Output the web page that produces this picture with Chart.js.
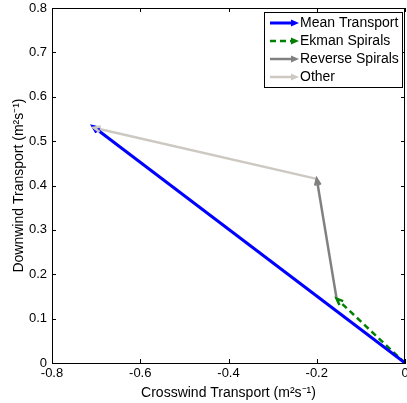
<!DOCTYPE html>
<html>
<head>
<meta charset="utf-8">
<script src="https://cdn.jsdelivr.net/npm/chart.js@4.4.1/dist/chart.umd.min.js"></script>
<style>
  html, body { margin: 0; padding: 0; background: #fff; }
  #wrap { width: 407px; height: 403px; }
</style>
</head>
<body>
<div id="wrap"><canvas id="quiver"></canvas></div>
<script>
// arrow components
var names  = ['Mean Transport', 'Ekman Spirals', 'Reverse Spirals', 'Other'];
var startX = [0, 0, -0.155, -0.2];
var startY = [0, 0, 0.145, 0.415];
var endX   = [-0.707, -0.155, -0.2, -0.705];
var endY   = [0.533, 0.145, 0.415, 0.53];

var colors = ['#0000ff', '#008000', '#808080', '#cdc9c2'];
var widths = [3, 2.5, 2.5, 2.5];
var dashes = [[], [6, 4], [], []];

var xTicks = [-0.8, -0.6, -0.4, -0.2, 0];
var yTicks = [0, 0.1, 0.2, 0.3, 0.4, 0.5, 0.6, 0.7, 0.8];

Chart.defaults.font.family = "'Liberation Sans', Arial, sans-serif";
Chart.defaults.color = '#000';

var datasets = [];
for (var i = 0; i < names.length; i++) {
  datasets.push({
    label: names[i],
    data: [{x: startX[i], y: startY[i]}, {x: endX[i], y: endY[i]}],
    showLine: true,
    borderColor: colors[i],
    borderWidth: widths[i],
    borderDash: dashes[i],
    pointRadius: 0,
    fill: false
  });
}

function fmt(v) {
  return Math.abs(v) < 1e-9 ? '0' : v.toFixed(1);
}

// heads, frame, inward ticks and the legend box
var extras = {
  id: 'extras',
  afterDatasetsDraw: function(chart) {
    var ctx = chart.ctx;
    var xs = chart.scales.x, ys = chart.scales.y;
    for (var i = 0; i < names.length; i++) {
      var x0 = xs.getPixelForValue(startX[i]), y0 = ys.getPixelForValue(startY[i]);
      var x1 = xs.getPixelForValue(endX[i]), y1 = ys.getPixelForValue(endY[i]);
      var a = Math.atan2(y1 - y0, x1 - x0);
      var len = 7, spread = 0.4;
      ctx.save();
      ctx.strokeStyle = colors[i];
      ctx.lineWidth = widths[i];
      ctx.setLineDash([]);
      ctx.beginPath();
      ctx.moveTo(x1 - len * Math.cos(a - spread), y1 - len * Math.sin(a - spread));
      ctx.lineTo(x1, y1);
      ctx.lineTo(x1 - len * Math.cos(a + spread), y1 - len * Math.sin(a + spread));
      ctx.stroke();
      ctx.restore();
    }
  },
  afterDraw: function(chart) {
    var ctx = chart.ctx;
    var ca = chart.chartArea;
    var xs = chart.scales.x, ys = chart.scales.y;
    ctx.save();
    ctx.strokeStyle = '#000';
    ctx.lineWidth = 1;
    ctx.beginPath();
    ctx.moveTo(ca.left, ca.top + 0.5);
    ctx.lineTo(ca.right, ca.top + 0.5);
    ctx.moveTo(ca.right - 0.5, ca.top);
    ctx.lineTo(ca.right - 0.5, ca.bottom);
    var tl = 4;
    xTicks.forEach(function(v) {
      var px = Math.round(xs.getPixelForValue(v)) + 0.5;
      ctx.moveTo(px, ca.bottom); ctx.lineTo(px, ca.bottom - tl);
      ctx.moveTo(px, ca.top); ctx.lineTo(px, ca.top + tl);
    });
    yTicks.forEach(function(v) {
      var py = Math.round(ys.getPixelForValue(v)) + 0.5;
      ctx.moveTo(ca.left, py); ctx.lineTo(ca.left + tl, py);
      ctx.moveTo(ca.right, py); ctx.lineTo(ca.right - tl, py);
    });
    ctx.stroke();

    // legend
    var bx = 264.5, by = 12.5, bw = 138, bh = 75;
    ctx.fillStyle = '#fff';
    ctx.fillRect(bx, by, bw, bh);
    ctx.strokeRect(bx, by, bw, bh);
    ctx.font = "14px 'Liberation Sans', Arial, sans-serif";
    ctx.textBaseline = 'middle';
    for (var i = 0; i < names.length; i++) {
      var ly = 23 + i * 18;
      ctx.strokeStyle = colors[i];
      ctx.fillStyle = colors[i];
      ctx.lineWidth = widths[i];
      ctx.setLineDash(dashes[i]);
      ctx.beginPath();
      ctx.moveTo(270, ly);
      ctx.lineTo(292, ly);
      ctx.stroke();
      ctx.setLineDash([]);
      ctx.beginPath();
      ctx.moveTo(299, ly);
      ctx.lineTo(291, ly - 3.5);
      ctx.lineTo(291, ly + 3.5);
      ctx.closePath();
      ctx.fill();
      ctx.fillStyle = '#000';
      ctx.fillText(names[i], 300, ly + 0.5);
    }
    ctx.restore();
  }
};

new Chart(document.getElementById('quiver'), {
  type: 'scatter',
  data: { datasets: datasets },
  options: {
    responsive: true,
    maintainAspectRatio: false,
    animation: false,
    layout: { padding: { top: 8, right: 2, left: 0, bottom: 0 } },
    plugins: { legend: { display: false }, tooltip: { enabled: false } },
    scales: {
      x: {
        type: 'linear',
        min: -0.8, max: 0,
        afterBuildTicks: function(s) { s.ticks = xTicks.map(function(v) { return {value: v}; }); },
        afterFit: function(s) { s.height = 40; s.paddingLeft = 0; s.paddingRight = 0; },
        ticks: { font: { size: 13 }, padding: 3, maxRotation: 0, autoSkip: false, callback: fmt },
        grid: { drawOnChartArea: false, drawTicks: false },
        border: { color: '#000', width: 1 },
        title: { display: true, text: 'Crosswind Transport (m²s⁻¹)', font: { size: 14 }, padding: { top: 0, bottom: 1 } }
      },
      y: {
        type: 'linear',
        min: 0, max: 0.8,
        afterBuildTicks: function(s) { s.ticks = yTicks.map(function(v) { return {value: v}; }); },
        afterFit: function(s) { s.width = 52; s.paddingTop = 0; s.paddingBottom = 0; },
        ticks: { font: { size: 13 }, padding: 5, autoSkip: false, callback: fmt },
        grid: { drawOnChartArea: false, drawTicks: false },
        border: { color: '#000', width: 1 },
        title: { display: true, text: 'Downwind Transport (m²s⁻¹)', font: { size: 14 }, padding: { top: 11, bottom: 0 } }
      }
    }
  },
  plugins: [extras]
});
</script>
</body>
</html>
